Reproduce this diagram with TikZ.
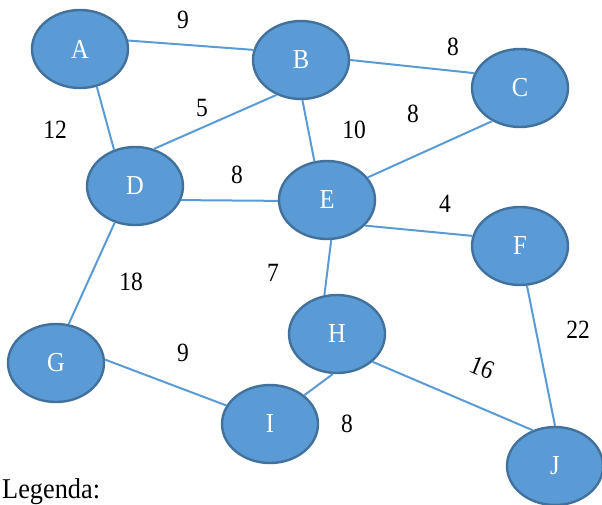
\documentclass[tikz,border=0pt]{standalone}
\usepackage{fontspec}
\setmainfont{Liberation Serif}
\usetikzlibrary{shapes.geometric}
\definecolor{nodefill}{HTML}{5B9BD5}
\definecolor{nodeline}{HTML}{41719C}
\newcommand{\tallt}[1]{\scalebox{1}[1.12]{#1}}
\tikzset{
  vert/.style={ellipse, draw=nodeline, line width=2.4pt, fill=nodefill, minimum width=96pt, minimum height=78pt, inner sep=0pt, text=white, font=\fontsize{24.5}{28}\selectfont},
  edge/.style={draw=nodefill, line width=2pt},
  wt/.style={font=\fontsize{23.5}{28}\selectfont, inner sep=0pt}
}
\begin{document}
\begin{tikzpicture}[x=1pt,y=-1pt]
\useasboundingbox (0,0) rectangle (602,504);
\node[vert] (A) at (80,49) {\tallt{A}};
\node[vert] (B) at (301,60) {\tallt{B}};
\node[vert] (C) at (520,88) {\tallt{C}};
\node[vert] (D) at (135,186) {\tallt{D}};
\node[vert] (E) at (327,200) {\tallt{E}};
\node[vert] (F) at (520,246) {\tallt{F}};
\node[vert] (G) at (56,363) {\tallt{G}};
\node[vert] (H) at (337,334) {\tallt{H}};
\node[vert] (I) at (270,424) {\tallt{I}};
\node[vert] (J) at (555,466) {\tallt{J}};
\path[edge] (A.10) -- (B.168);
\path[edge] (A.294) -- (D.120);
\path[edge] (B.235) -- (D.63);
\path[edge] (B.0) -- (C.162);
\path[edge] (B.272) -- (E.108);
\path[edge] (C.230) -- (E.29);
\path[edge] (D.-17) -- (E.181);
\path[edge] (D.241) -- (G.72);
\path[edge] (E.-34) -- (F.168);
\path[edge] (E.276) -- (H.108);
\path[edge] (F.280) -- (J.90);
\path[edge] (G.4) -- (I.157);
\path[edge] (H.264) -- (I.40);
\path[edge] (H.-38) -- (J.122);
\node[wt] (w1) at (183,20) {\tallt{9}};
\node[wt] (w2) at (55,130) {\tallt{12}};
\node[wt] (w3) at (202,108) {\tallt{5}};
\node[wt] (w4) at (237,175) {\tallt{8}};
\node[wt] (w5) at (453,47) {\tallt{8}};
\node[wt] (w6) at (354,130) {\tallt{10}};
\node[wt] (w7) at (413,114) {\tallt{8}};
\node[wt] (w8) at (445,204) {\tallt{4}};
\node[wt] (w9) at (131,282) {\tallt{18}};
\node[wt] (w10) at (273,273) {\tallt{7}};
\node[wt] (w11) at (183,353) {\tallt{9}};
\node[wt] (w12) at (578,330) {\tallt{22}};
\node[wt, rotate=-22] (w13) at (482,368) {\tallt{16}};
\node[wt] (w14) at (347,424) {\tallt{8}};
\node[anchor=base west, inner sep=0pt, font=\fontsize{26.3}{30}\selectfont] (leg) at (2,498) {\scalebox{1}[1.09]{Legenda:}};
\end{tikzpicture}
\end{document}
